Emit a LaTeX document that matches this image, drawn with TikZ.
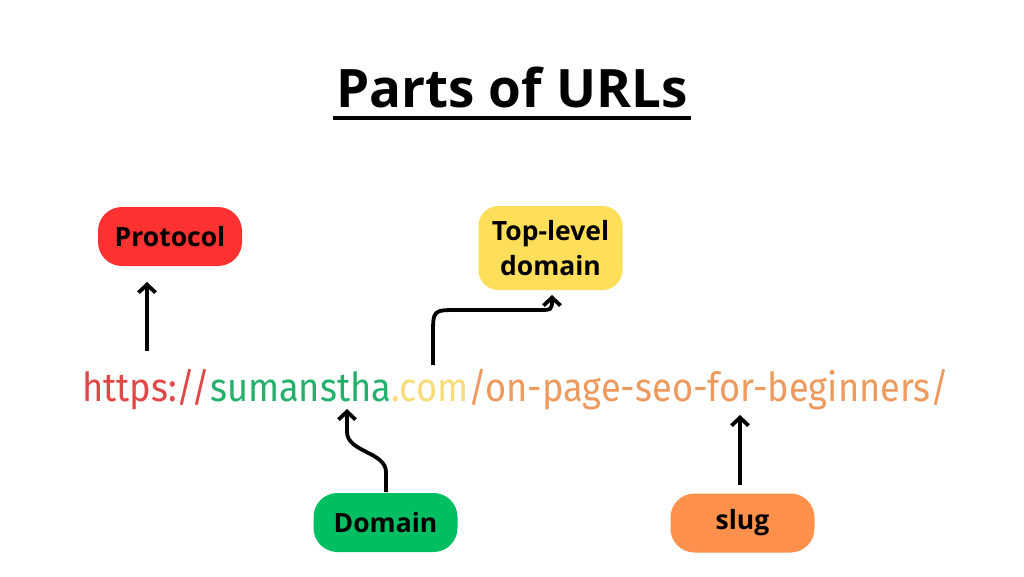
\documentclass[tikz,border=0pt]{standalone}
\usepackage{graphicx}
\usepackage{fontspec}
\setmainfont{Open Sans}
\newfontfamily\urlfont{Fira Sans}
\usetikzlibrary{arrows.meta}
\definecolor{cred}{HTML}{FF3131}
\definecolor{cgreen}{HTML}{00BF63}
\definecolor{cyellow}{HTML}{FFDE59}
\definecolor{corange}{HTML}{FF914D}
\definecolor{ured}{HTML}{E04848}
\definecolor{ugreen}{HTML}{22B06A}
\definecolor{uyellow}{HTML}{F7DC78}
\definecolor{uorange}{HTML}{EE9A5E}
\tikzset{
  tag/.style={rounded corners=24pt, minimum width=144pt, minimum height=59pt,
    inner sep=0pt, align=center, font=\fontsize{26.5}{35}\selectfont\bfseries},
  pointer/.style={line width=3.8pt, -{Straight Barb[length=8pt,width=17pt]}},
}
\begin{document}
\begin{tikzpicture}[x=1pt,y=-1pt]
\useasboundingbox[fill=white] (0,0) rectangle (1024,576);
% title
\node[inner sep=0pt, anchor=base, font=\fontsize{53}{60}\selectfont\bfseries] (title) at (512,107) {Parts of URLs};
\draw[line width=4pt] (333,118) coordinate (ul1) -- (691,118) coordinate (ul2);
% URL
\node[inner sep=0pt, anchor=base west, font=\urlfont\fontsize{40}{46}\selectfont] (url) at (82,401)
  {\scalebox{0.906}[1]{\textcolor{ured}{https://}\textcolor{ugreen}{sumanstha}\textcolor{uyellow}{.com}\textcolor{uorange}{/on-page-seo-for-beginners/}}};
% tags
\node[tag, fill=cred] (protocol) at (170,236.5) {Protocol};
\node[tag, fill=cyellow, minimum height=84pt, rounded corners=20pt] (tld) at (550.5,248) {Top-level\\domain};
\node[tag, fill=cgreen] (domain) at (385.5,522.5) {Domain};
\node[tag, fill=corange] (slug) at (742.5,523) {slug};
% connectors
\coordinate (pA) at (147,351);
\coordinate (tA) at (433,365);
\coordinate (dA) at (386,492);
\coordinate (sA) at (740,485);
\draw[pointer] (pA) -- (147,282);
\draw[pointer] (tA) -- (433,335) .. controls (433,310) .. (458,310) -- (538,310) .. controls (552,310) .. (552,295);
\draw[pointer] (dA) -- (386,472) .. controls (386,452) and (347,452) .. (347,432) -- (347,409);
\draw[pointer] (sA) -- (740,415);
\end{tikzpicture}
\end{document}
